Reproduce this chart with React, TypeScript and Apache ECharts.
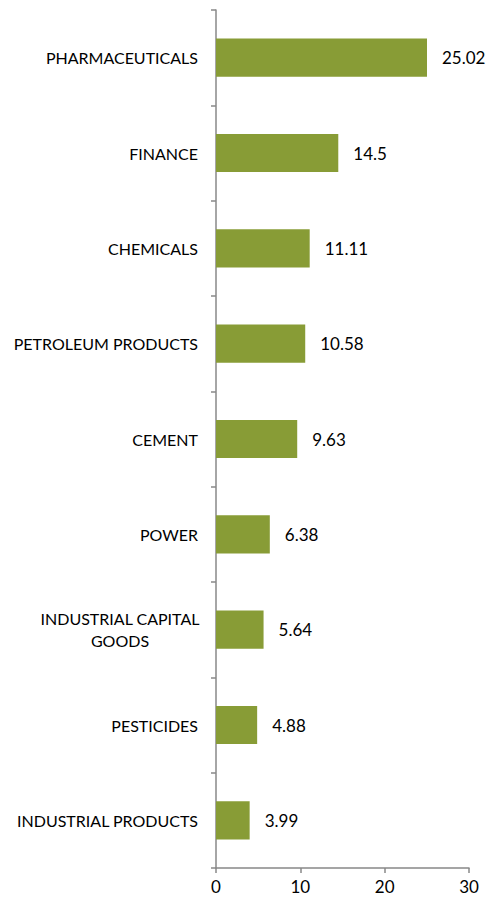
import React, { useEffect, useRef } from "react";
import * as echarts from "echarts";

const categories = [
  "PHARMACEUTICALS",
  "FINANCE",
  "CHEMICALS",
  "PETROLEUM PRODUCTS",
  "CEMENT",
  "POWER",
  "INDUSTRIAL CAPITAL GOODS",
  "PESTICIDES",
  "INDUSTRIAL PRODUCTS",
];
const values = [25.02, 14.5, 11.11, 10.58, 9.63, 6.38, 5.64, 4.88, 3.99];
const xTicks = [0, 10, 20, 30];

const FONT = "Lato";

export default function App() {
  const ref = useRef<HTMLDivElement>(null);
  useEffect(() => {
    if (!ref.current) return;
    const chart = echarts.init(ref.current, null, { renderer: "svg" });
    chart.setOption({
      animation: false,
      grid: { left: 216, right: 30, top: 10, bottom: 33, containLabel: false },
      xAxis: {
        type: "value",
        min: xTicks[0],
        max: xTicks[xTicks.length - 1],
        interval: 10,
        splitLine: { show: false },
        axisLine: { show: true, lineStyle: { color: "#888888", width: 1.5 } },
        axisTick: { show: true, length: 5, lineStyle: { color: "#888888", width: 1.5 } },
        axisLabel: { color: "#000", fontFamily: FONT, fontSize: 17, margin: 10 },
      },
      yAxis: {
        type: "category",
        data: categories,
        inverse: true,
        axisLine: { show: true, lineStyle: { color: "#888888", width: 1.5 } },
        axisTick: { show: true, length: 5, lineStyle: { color: "#888888", width: 1.5 } },
        axisLabel: {
          color: "#000",
          fontFamily: FONT,
          fontSize: 16,
          margin: 18,
          formatter: (v: string) => {
            if (v === "INDUSTRIAL CAPITAL GOODS") {
              return "{c|INDUSTRIAL CAPITAL}\n{c|GOODS}";
            }
            return v;
          },
          rich: {
            c: {
              width: 156,
              align: "center",
              fontFamily: FONT,
              fontSize: 16,
              color: "#000",
              lineHeight: 22,
            },
          },
        },
      },
      series: [
        {
          type: "bar",
          data: values,
          barCategoryGap: "60%",
          itemStyle: { color: "#889C36" },
          label: {
            show: true,
            position: "right",
            distance: 15,
            color: "#000",
            fontFamily: FONT,
            fontSize: 17,
          },
        },
      ],
    });
    return () => chart.dispose();
  }, []);
  return <div ref={ref} style={{ width: 499, height: 901, position: "absolute", left: 0, top: 0 }} />;
}
